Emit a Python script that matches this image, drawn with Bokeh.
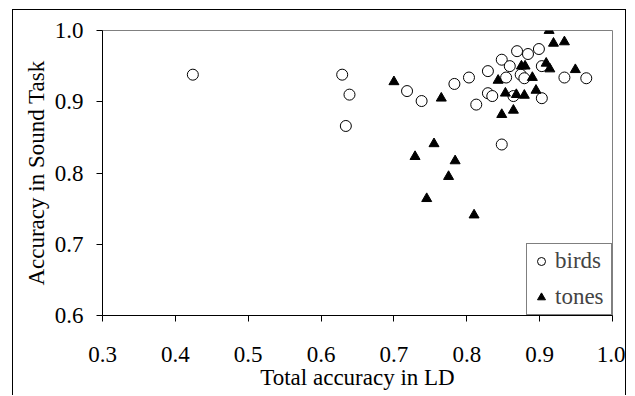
from bokeh.plotting import figure
from bokeh.models import Range1d, FixedTicker, Legend, LegendItem, NumeralTickFormatter
from bokeh.embed import file_html
from bokeh.resources import INLINE

# ---- data ----
birds_x = [0.424, 0.629, 0.639, 0.634, 0.718, 0.738, 0.783, 0.803, 0.813, 0.829,
           0.829, 0.835, 0.848, 0.848, 0.854, 0.859, 0.864, 0.869, 0.874, 0.879,
           0.884, 0.899, 0.903, 0.903, 0.934, 0.964]
birds_y = [0.938, 0.938, 0.910, 0.866, 0.915, 0.901, 0.925, 0.934, 0.896, 0.943,
           0.912, 0.908, 0.959, 0.840, 0.934, 0.950, 0.908, 0.971, 0.938, 0.933,
           0.967, 0.974, 0.950, 0.905, 0.934, 0.933]

tones_x = [0.700, 0.765, 0.729, 0.755, 0.784, 0.775, 0.745, 0.810, 0.843, 0.848,
           0.853, 0.864, 0.868, 0.875, 0.880, 0.879, 0.890, 0.895, 0.909, 0.914,
           0.913, 0.919, 0.934, 0.949]
tones_y = [0.928, 0.905, 0.823, 0.841, 0.817, 0.795, 0.764, 0.741, 0.930, 0.882,
           0.912, 0.888, 0.910, 0.950, 0.950, 0.909, 0.934, 0.916, 0.954, 0.946,
           1.000, 0.982, 0.984, 0.945]

x_ticks = [0.3, 0.4, 0.5, 0.6, 0.7, 0.8, 0.9, 1.0]
y_ticks = [0.6, 0.7, 0.8, 0.9, 1.0]

x_title = "Total accuracy in LD"
y_title = "Accuracy in Sound Task"
FONT = "'Liberation Serif', 'Times New Roman', serif"

p = figure(width=614, height=386, output_backend="svg", toolbar_location=None,
           x_range=Range1d(0.3, 1.0), y_range=Range1d(0.6, 1.0),
           min_border_left=89, min_border_right=15, min_border_top=20, min_border_bottom=81)
p.margin = (9, 0, 0, 12)
p.styles = {"border-left": "1px solid black", "border-top": "1px solid black",
            "border-right": "1px solid black"}

p.background_fill_color = "white"
p.border_fill_color = "white"
p.outline_line_color = "#808080"
p.outline_line_width = 1
p.grid.visible = False

for ax, ticks, title in ((p.xaxis, x_ticks, x_title), (p.yaxis, y_ticks, y_title)):
    ax.ticker = FixedTicker(ticks=ticks)
    ax.formatter = NumeralTickFormatter(format="0.0")
    ax.axis_label = title
    ax.axis_label_text_font = FONT
    ax.axis_label_text_font_size = "23px"
    ax.axis_label_text_font_style = "normal"
    ax.axis_label_text_color = "black"
    ax.major_label_text_font = FONT
    ax.major_label_text_font_size = "23px"
    ax.major_label_text_color = "black"
    ax.axis_line_color = "black"
    ax.major_tick_line_color = "black"
    ax.major_tick_in = 0
    ax.major_tick_out = 6
    ax.minor_tick_line_color = None

p.xaxis.major_label_standoff = 25
p.yaxis.major_label_standoff = 13
p.xaxis.axis_label_standoff = 0
p.yaxis.axis_label_standoff = 3

r_birds = p.scatter(birds_x, birds_y, marker="circle", size=11,
                    fill_color="white", line_color="black", line_width=1)
r_tones = p.scatter(tones_x, tones_y, marker="triangle", size=10,
                    fill_color="black", line_color="black", line_width=1)

legend = Legend(items=[LegendItem(label="birds", renderers=[r_birds]),
                       LegendItem(label="tones", renderers=[r_tones])],
                location="bottom_right", margin=0, padding=4, spacing=10,
                label_text_font=FONT, label_text_font_size="23px",
                label_standoff=4, glyph_width=20, glyph_height=26, label_width=52,
                border_line_color="black", border_line_width=1,
                background_fill_color="white", background_fill_alpha=1.0)
p.add_layout(legend)

open("out.html", "w").write(file_html(p, INLINE))
